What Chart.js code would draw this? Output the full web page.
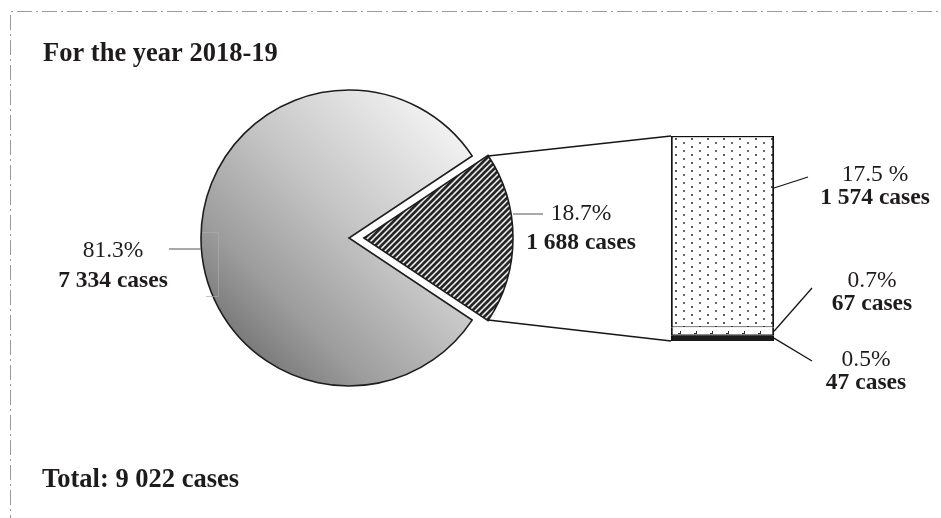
<!DOCTYPE html>
<html>
<head>
<meta charset="utf-8">
<script src="https://cdn.jsdelivr.net/npm/chart.js@4/dist/chart.umd.min.js"></script>
<style>
body { margin: 0; background: #fff; }
#wrap { position: relative; width: 941px; height: 518px; overflow: hidden; }
#wrap canvas { position: absolute; left: 0; top: 0; }
</style>
</head>
<body>
<div id="wrap">
	<canvas id="pie-chart" width="941" height="518"></canvas>
	<canvas id="bar-chart" width="941" height="518"></canvas>
</div>
<script>
// pie: detailed slice first, then the rest
const pieLabels = ["18.7%", "81.3%"];
const pieCases = [1688, 7334];
const piePercent = ["18.7%", "81.3%"];

// bar of the detailed slice, bottom to top
const barLabels = ["0.5%", "0.7%", "17.5 %"];
const barCases = [47, 67, 1574];
const barPercent = ["0.5%", "0.7%", "17.5 %"];

const chartTitle = "For the year 2018-19";
const totalText = "Total: 9 022 cases";

const textColor = "#1f1b1c";
const pieRadius = 148;
const sliceGap = 16;

function casesText(n) {
	return n.toString().replace(/\B(?=(\d{3})+(?!\d))/g, " ") + " cases";
}

function makePattern(w, h, drawTile) {
	let c = document.createElement("canvas");
	c.width = w;
	c.height = h;
	let g = c.getContext("2d");
	g.fillStyle = "#fff";
	g.fillRect(0, 0, w, h);
	drawTile(g);
	return g.createPattern(c, "repeat");
}

const stripes = makePattern(6, 6, function(g) {
	g.strokeStyle = "#222";
	g.lineWidth = 2.7;
	g.beginPath();
	g.moveTo(-3, 3); g.lineTo(3, -3);
	g.moveTo(0, 6); g.lineTo(6, 0);
	g.moveTo(3, 9); g.lineTo(9, 3);
	g.stroke();
});

const dots = makePattern(16, 8, function(g) {
	g.fillStyle = "#5a5a5a";
	g.fillRect(3, 2, 2, 2);
	g.fillStyle = "#6a6a6a";
	g.fillRect(11, 6, 2, 2);
});

const ticks = makePattern(16, 8, function(g) {
	g.fillStyle = "#333";
	g.fillRect(6, 5, 3, 1);
	g.fillRect(8, 3, 1, 2);
});

const pieTotal = pieCases[0] + pieCases[1];
const sliceDeg = pieCases[0] / pieTotal * 360;
// chart.js moves an offset arc by offset/4 * (1 + fix)
const fix = 1 - Math.sin(Math.min(Math.PI, sliceDeg * Math.PI / 180));
const pieOffset = sliceGap * 4 / (1 + fix);

function pieFill(context) {
	if (context.dataIndex === 0) {
		return stripes;
	}
	let a = context.chart.chartArea;
	if (!a) {
		return "#bbb";
	}
	let cx = (a.left + a.right) / 2;
	let cy = (a.top + a.bottom) / 2;
	let d = pieRadius * 0.72;
	let grad = context.chart.ctx.createLinearGradient(cx + d, cy - d, cx - d, cy + d);
	grad.addColorStop(0, "#f2f2f2");
	grad.addColorStop(0.45, "#c6c6c6");
	grad.addColorStop(0.8, "#9c9c9c");
	grad.addColorStop(1, "#7a7a7a");
	return grad;
}

const pieChart = new Chart(document.getElementById("pie-chart"), {
	type: "pie",
	data: {
		labels: pieLabels,
		datasets: [{
			data: pieCases,
			backgroundColor: pieFill,
			borderColor: "#1e1e1e",
			borderWidth: 1.6,
			borderJoinStyle: "miter",
			offset: [pieOffset, 0],
		}]
	},
	options: {
		responsive: false,
		animation: false,
		events: [],
		rotation: 90 - sliceDeg / 2,
		radius: pieRadius,
		layout: {
			padding: { left: 200, right: 443, top: 89, bottom: 131 }
		},
		plugins: {
			legend: { display: false },
			tooltip: { enabled: false },
		},
	},
});

function line(ctx, x1, y1, x2, y2) {
	ctx.beginPath();
	ctx.moveTo(x1, y1);
	ctx.lineTo(x2, y2);
	ctx.stroke();
}

function label(ctx, x, y1, y2, pct, cases) {
	ctx.fillStyle = textColor;
	ctx.textAlign = "center";
	ctx.textBaseline = "alphabetic";
	ctx.font = '23.5px "Liberation Serif"';
	ctx.fillText(pct, x, y1);
	ctx.font = 'bold 23.5px "Liberation Serif"';
	ctx.fillText(casesText(cases), x, y2);
}

const overlay = {
	id: "overlay",
	beforeDraw(chart) {
		let ctx = chart.ctx;
		ctx.save();
		ctx.strokeStyle = "#9a9a9a";
		ctx.lineWidth = 1;
		ctx.setLineDash([15, 4, 2, 4]);
		ctx.beginPath();
		ctx.moveTo(10.5, 530);
		ctx.lineTo(10.5, 11.5);
		ctx.lineTo(960, 11.5);
		ctx.stroke();
		ctx.restore();
	},
	afterDraw(chart) {
		let ctx = chart.ctx;
		let small = pieChart.getDatasetMeta(0).data[0];
		let big = pieChart.getDatasetMeta(0).data[1];
		let r = small.outerRadius;
		let mid = (small.startAngle + small.endAngle) / 2;
		let ox = small.x + Math.cos(mid) * sliceGap;
		let oy = small.y + Math.sin(mid) * sliceGap;

		let bars = [0, 1, 2].map(i => chart.getDatasetMeta(i).data[0]);
		let top = bars[2].y;
		let bottom = bars[0].base;
		let left = bars[2].x - bars[2].width / 2;
		let right = bars[2].x + bars[2].width / 2;

		ctx.save();
		// connectors from the slice to the bar
		ctx.strokeStyle = "#161616";
		ctx.lineWidth = 1.5;
		line(ctx, ox + r * Math.cos(small.startAngle), oy + r * Math.sin(small.startAngle), left, top);
		line(ctx, ox + r * Math.cos(small.endAngle), oy + r * Math.sin(small.endAngle), left, bottom);

		// faint label box left inside the pie
		ctx.strokeStyle = "rgba(170,170,170,0.7)";
		ctx.lineWidth = 1;
		ctx.beginPath();
		ctx.moveTo(big.x - r + 1, big.y - 5.5);
		ctx.lineTo(big.x - r + 17.5, big.y - 5.5);
		ctx.lineTo(big.x - r + 17.5, big.y + 58.5);
		ctx.lineTo(big.x - r + 5, big.y + 58.5);
		ctx.stroke();

		// pie leaders
		ctx.strokeStyle = "#8c8c8c";
		ctx.lineWidth = 1.5;
		line(ctx, big.x - r, big.y + 11, big.x - r - 32, big.y + 11);
		line(ctx, ox + r, oy - 24, ox + r + 30, oy - 24);
		label(ctx, big.x - r - 88, big.y + 19, big.y + 49, piePercent[1], pieCases[1]);
		label(ctx, ox + r + 68, oy - 18, oy + 11, piePercent[0], pieCases[0]);

		// bar leaders
		ctx.strokeStyle = "#161616";
		ctx.lineWidth = 1.3;
		line(ctx, right, top + 52, right + 34, top + 41);
		let m1 = (bars[1].y + bars[1].base) / 2;
		line(ctx, right, m1, right + 38, bottom - 53);
		let m0 = (bars[0].y + bars[0].base) / 2;
		line(ctx, right, m0, right + 38, bottom + 20);
		label(ctx, right + 101, top + 45, top + 68, barPercent[2], barCases[2]);
		label(ctx, right + 98, bottom - 54, bottom - 31, barPercent[1], barCases[1]);
		label(ctx, right + 92, bottom + 25, bottom + 48, barPercent[0], barCases[0]);

		// title and total
		ctx.fillStyle = textColor;
		ctx.textAlign = "left";
		ctx.font = 'bold 26.5px "Liberation Serif"';
		ctx.fillText(chartTitle, 43, 61);
		ctx.fillText(totalText, 42, 487);
		ctx.restore();
	}
};

const barFills = ["#1c1c1c", ticks, dots];
const barBorders = [
	{ top: 0, left: 2, right: 2, bottom: 0 },
	{ top: 0, left: 2, right: 2, bottom: 1 },
	{ top: 1.5, left: 2, right: 2, bottom: 1 },
];

const barChart = new Chart(document.getElementById("bar-chart"), {
	type: "bar",
	data: {
		labels: ["18.7%"],
		datasets: barCases.map(function(v, i) {
			return {
				label: barLabels[i],
				data: [v],
				backgroundColor: barFills[i],
				borderColor: "#111",
				borderWidth: barBorders[i],
				borderSkipped: false,
				barPercentage: 1,
				categoryPercentage: 1,
			};
		})
	},
	options: {
		responsive: false,
		animation: false,
		events: [],
		layout: {
			padding: { left: 671, right: 167, top: 136, bottom: 177 }
		},
		scales: {
			x: { display: false, stacked: true },
			y: { display: false, stacked: true, min: 0, max: barCases.reduce((a, b) => a + b, 0) },
		},
		plugins: {
			legend: { display: false },
			tooltip: { enabled: false },
		},
	},
	plugins: [overlay],
});
</script>
</body>
</html>
